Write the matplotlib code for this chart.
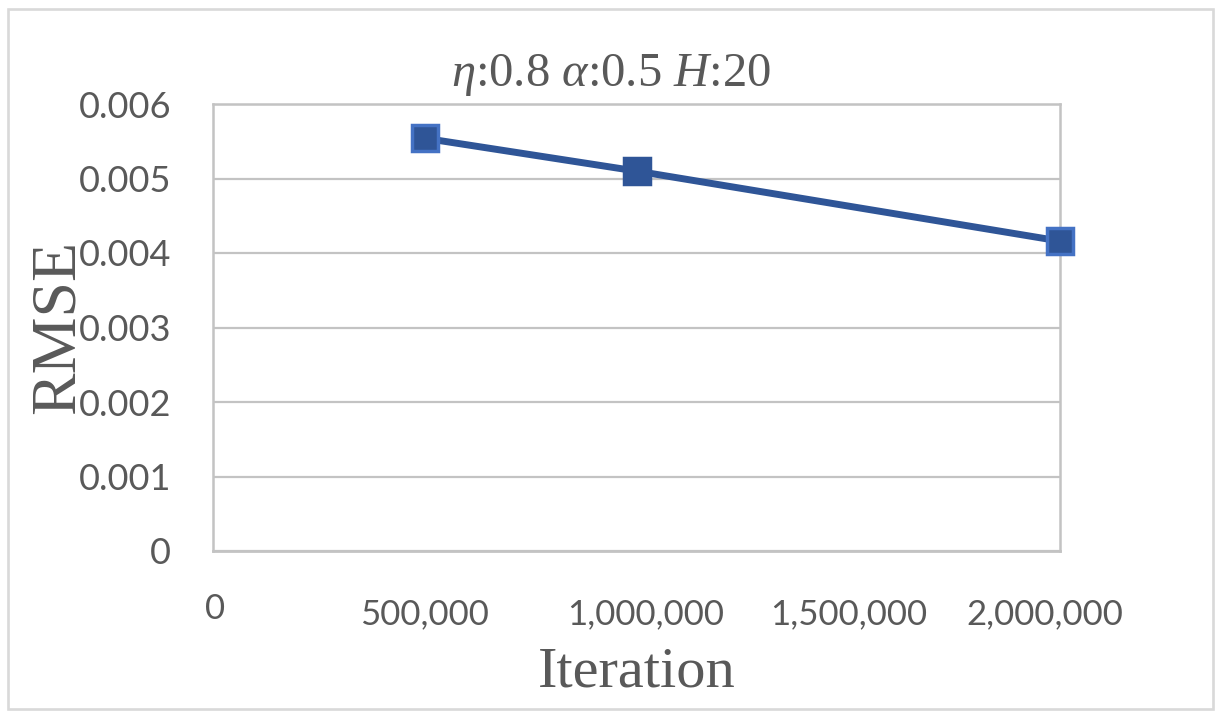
import matplotlib
matplotlib.use("Agg")
import matplotlib.pyplot as plt
from matplotlib.patches import Rectangle
from matplotlib.transforms import ScaledTranslation

# ---- data ----
iterations = [500000, 1000000, 2000000]
rmse = [0.00554, 0.00510, 0.00416]
xtick_values = [0, 500000, 1000000, 1500000, 2000000]
xtick_labels = ["0", "500,000", "1,000,000", "1,500,000", "2,000,000"]
ytick_values = [0, 0.001, 0.002, 0.003, 0.004, 0.005, 0.006]
ytick_labels = ["0", "0.001", "0.002", "0.003", "0.004", "0.005", "0.006"]
title_text = r"$\eta$:0.8 $\alpha$:0.5 $H$:20"
xlabel_text = "Iteration"
ylabel_text = "RMSE"

plt.rcParams["mathtext.fontset"] = "custom"
plt.rcParams["mathtext.rm"] = "Liberation Serif"
plt.rcParams["mathtext.it"] = "Liberation Serif:italic"

TEXT = "#595959"
GRID = "#C3C3C3"
LINE = "#2F5597"
EDGE = "#4472C4"

fig = plt.figure(figsize=(12.24, 7.18), dpi=100)
fig.patch.set_facecolor("white")
ax = fig.add_axes([213 / 1224, 1 - 551 / 718, 847 / 1224, 447 / 718])

ax.set_xlim(0, 2000000)
ax.set_ylim(0, 0.006)

ax.plot(iterations, rmse, color=LINE, lw=5, solid_capstyle="butt", zorder=3,
        clip_on=False)
edges = [EDGE, LINE, EDGE]
for xv, yv, ec in zip(iterations, rmse, edges):
    ax.plot([xv], [yv], marker="s", ms=19, mfc=LINE, mec=ec, mew=2.5,
            ls="none", zorder=4, clip_on=False)

ax.set_yticks(ytick_values)
ax.set_yticklabels(ytick_labels, fontfamily="Lato", fontsize=26, color=TEXT)
ax.set_xticks(xtick_values)
ax.set_xticklabels(xtick_labels, fontfamily="Lato", fontsize=25, color=TEXT)
ax.tick_params(axis="y", length=0, pad=30)
ax.tick_params(axis="x", length=0, pad=34)

ax.grid(axis="y", color=GRID, lw=1.6)
ax.grid(axis="x", visible=False)
ax.set_axisbelow(True)
for side in ["left", "right", "top", "bottom"]:
    ax.spines[side].set_color(GRID)
    ax.spines[side].set_linewidth(1.8)
ax.spines["bottom"].set_linewidth(2.0)

# individual label nudges (as in the reference layout)
offsets = {0: (2, 5), 2: (9, 0), 4: (-15, 0)}
for i, lab in enumerate(ax.get_xticklabels()):
    if i in offsets:
        dx, dy = offsets[i]
        lab.set_transform(lab.get_transform() +
                          ScaledTranslation(dx / 100, dy / 100, fig.dpi_scale_trans))

ax.set_ylabel(ylabel_text, fontfamily="Liberation Serif", fontsize=46, color=TEXT,
              va="center")
ax.yaxis.set_label_coords(-0.182, 0.5)
ax.set_xlabel(xlabel_text, fontfamily="Liberation Serif", fontsize=42, color=TEXT,
              va="center")
ax.xaxis.set_label_coords(0.5, -0.272)

ax.text(0.47, 1.065, title_text, transform=ax.transAxes, ha="center", va="center",
        fontsize=35, color=TEXT, fontfamily="Liberation Serif")

fig.patches.append(Rectangle((8 / 1224, 9 / 718), 1205 / 1224, 700 / 718,
                             transform=fig.transFigure, fill=False,
                             edgecolor="#D9D9D9", lw=1.9))

fig.savefig("out.png", dpi=100, facecolor="white")
